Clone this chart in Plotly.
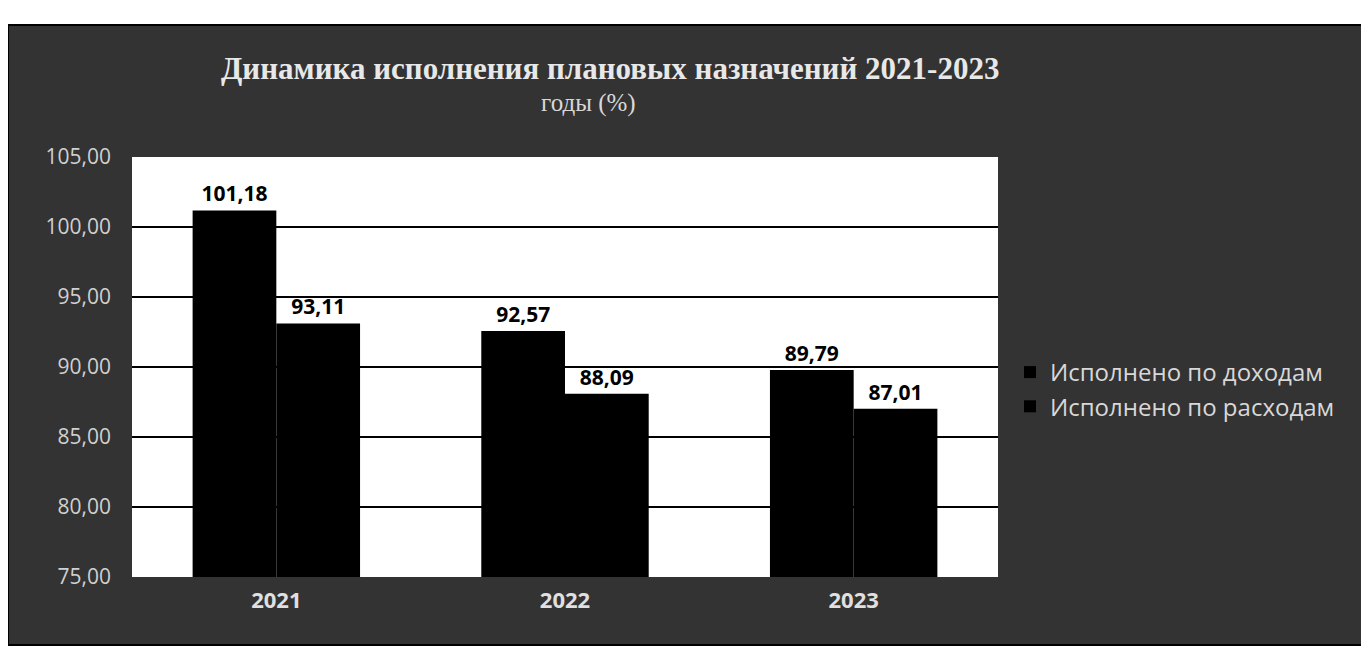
import plotly.graph_objects as go

categories = ["2021", "2022", "2023"]
series_names = ["Исполнено по доходам", "Исполнено по расходам"]
income = [101.18, 92.57, 89.79]
expense = [93.11, 88.09, 87.01]
title_line1 = "Динамика исполнения плановых назначений 2021-2023"
title_line2 = "годы (%)"

W, H = 1369, 651
OFF = 8  # page body offset
L, R, T, B = 132 - OFF, 998 - OFF, 157 - OFF, 577 - OFF

def px(x):
    return (x - OFF - L) / (R - L)

def py(y):
    return (B - (y - OFF)) / (B - T)

fig = go.Figure()
for name, vals in zip(series_names, [income, expense]):
    fig.add_trace(go.Bar(
        x=categories, y=vals, name=name,
        marker=dict(color="#000000", line=dict(width=0)),
        text=["<b>" + f"{v:.2f}".replace(".", ",") + "</b>" for v in vals],
        textposition="outside",
        textfont=dict(family="Open Sans", size=21, color="#000000"),
        cliponaxis=False,
    ))

fig.update_layout(
    width=W, height=H,
    margin=dict(l=L, r=W - R, t=T, b=H - B),
    paper_bgcolor="#ffffff",
    plot_bgcolor="rgba(0,0,0,0)",
    barmode="group",
    bargap=0.42,
    bargroupgap=0,
    separators=", ",
    showlegend=True,
    legend=dict(
        x=px(1010), y=py(350), xanchor="left", yanchor="top",
        font=dict(family="Open Sans", size=24, color="#d8d8d8"),
        bgcolor="rgba(0,0,0,0)", itemwidth=30, tracegroupgap=14,
    ),
    xaxis=dict(
        showgrid=False, showline=False, ticks="",
        tickfont=dict(family="Open Sans", size=22, color="#e0e0e0"),
        ticklabelstandoff=8,
        tickprefix="<b>", ticksuffix="</b>",
    ),
    yaxis=dict(
        range=[75, 105], dtick=5, tick0=75, tickformat=".2f",
        showgrid=True, gridcolor="#000000", gridwidth=2,
        zeroline=False, showline=False, ticks="",
        tickfont=dict(family="Open Sans", size=21, color="#d0d0d0"),
        ticklabelstandoff=20,
    ),
    font=dict(family="Open Sans", color="#d8d8d8"),
    shapes=[
        dict(type="rect", xref="paper", yref="paper",
             x0=px(8), x1=px(1362), y0=py(645), y1=py(25),
             fillcolor="#333333", line=dict(color="#000000", width=2), layer="below"),
        dict(type="rect", xref="paper", yref="paper",
             x0=0, x1=1, y0=0, y1=1,
             fillcolor="#ffffff", line=dict(width=0), layer="below"),
    ],
    annotations=[
        dict(text="<b>" + title_line1 + "</b>", xref="paper", yref="paper",
             x=px(610), y=py(68), xanchor="center", yanchor="middle", showarrow=False,
             font=dict(family="Liberation Serif", size=31, color="#e8e8e8")),
        dict(text=title_line2, xref="paper", yref="paper",
             x=px(588), y=py(103), xanchor="center", yanchor="middle", showarrow=False,
             font=dict(family="Liberation Serif", size=25, color="#d8d8d8")),
    ],
)

fig.write_html("out.html")
